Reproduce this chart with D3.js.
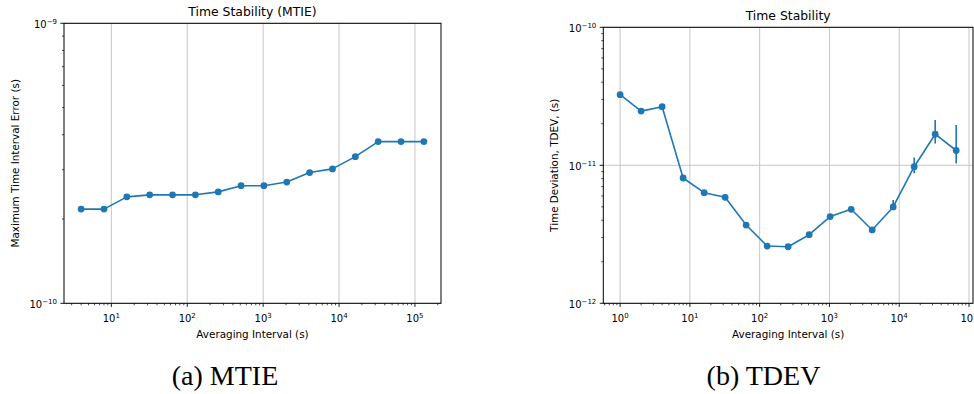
<!DOCTYPE html>
<html><head><meta charset="utf-8">
<script src="https://cdn.jsdelivr.net/npm/d3@7"></script>
<style>
body{margin:0;background:#fff}
svg{display:block}
text{font-family:"DejaVu Sans",sans-serif;fill:#000}
</style>
</head><body>
<svg id="c" width="974" height="394"></svg>
<script>
// ---------- data ----------
const mtieTau = [4, 8, 16, 32, 64, 128, 256, 512, 1024, 2048, 4096, 8192, 16384, 32768, 65536, 131072];
const mtieValues = [2.17e-10, 2.17e-10, 2.40e-10, 2.44e-10, 2.44e-10, 2.44e-10, 2.50e-10, 2.63e-10,
                    2.63e-10, 2.71e-10, 2.93e-10, 3.02e-10, 3.34e-10, 3.78e-10, 3.78e-10, 3.78e-10];

const tdevTau = [1, 2, 4, 8, 16, 32, 64, 128, 256, 512, 1024, 2048, 4096, 8192, 16384, 32768, 65536];
const tdevValues = [3.25e-11, 2.47e-11, 2.66e-11, 8.09e-12, 6.33e-12, 5.86e-12, 3.69e-12, 2.60e-12,
                    2.57e-12, 3.14e-12, 4.25e-12, 4.80e-12, 3.40e-12, 4.99e-12, 9.77e-12, 1.68e-11, 1.28e-11];
const tdevLow  = [3.22e-11, 2.45e-11, 2.63e-11, 7.98e-12, 6.22e-12, 5.74e-12, 3.60e-12, 2.53e-12,
                  2.50e-12, 3.05e-12, 4.12e-12, 4.64e-12, 3.28e-12, 4.75e-12, 8.75e-12, 1.44e-11, 1.03e-11];
const tdevHigh = [3.28e-11, 2.49e-11, 2.69e-11, 8.20e-12, 6.44e-12, 5.98e-12, 3.78e-12, 2.67e-12,
                  2.64e-12, 3.23e-12, 4.38e-12, 4.96e-12, 3.52e-12, 5.60e-12, 1.14e-11, 2.13e-11, 1.96e-11];

const mtieXTickExp = [1, 2, 3, 4, 5];
const mtieYTickExp = [-10, -9];
const tdevXTickExp = [0, 1, 2, 3, 4, 5];
const tdevYTickExp = [-12, -11, -10];

const mtieTitle = "Time Stability (MTIE)";
const tdevTitle = "Time Stability";
const xLabel = "Averaging Interval (s)";
const mtieYLabel = "Maximum Time Interval Error (s)";
const tdevYLabel = "Time Deviation, TDEV, (s)";
const captions = ["(a) MTIE", "(b) TDEV"];

// ---------- drawing ----------
const svg = d3.select("#c");
const COLOR = "#1f77b4";

function logLimits(vals) {
  const lo = Math.log10(d3.min(vals)), hi = Math.log10(d3.max(vals));
  const m = (hi - lo) * 0.05;
  return [Math.pow(10, lo - m), Math.pow(10, hi + m)];
}

function minorValues(domain) {
  const out = [];
  const d0 = Math.floor(Math.log10(domain[0])), d1 = Math.ceil(Math.log10(domain[1]));
  for (let d = d0; d <= d1; d++) for (let k = 2; k <= 9; k++) {
    const v = k * Math.pow(10, d);
    if (v >= domain[0] && v <= domain[1]) out.push(v);
  }
  return out;
}

function panel(o) {
  const g = svg.append("g");
  const x = d3.scaleLog().domain(o.xDomain).range([o.left, o.right]);
  const y = d3.scaleLog().domain(o.yDomain).range([o.bottom, o.top]);

  // grid
  const xMaj = o.xExp.map(e => Math.pow(10, e)).filter(v => v >= o.xDomain[0] && v <= o.xDomain[1] * 1.0001);
  const yMaj = o.yExp.map(e => Math.pow(10, e));
  g.selectAll(".gx").data(xMaj).enter().append("line")
    .attr("x1", d => x(d)).attr("x2", d => x(d)).attr("y1", o.top).attr("y2", o.bottom)
    .attr("stroke", "#c6c6c6").attr("stroke-width", 1);
  g.selectAll(".gy").data(yMaj).enter().append("line")
    .attr("x1", o.left).attr("x2", o.right).attr("y1", d => y(d)).attr("y2", d => y(d))
    .attr("stroke", "#c6c6c6").attr("stroke-width", 1);

  // error bars
  if (o.low) {
    g.selectAll(".eb").data(o.tau).enter().append("line")
      .attr("x1", d => x(d)).attr("x2", d => x(d))
      .attr("y1", (d, i) => y(o.low[i])).attr("y2", (d, i) => y(o.high[i]))
      .attr("stroke", COLOR).attr("stroke-width", 1.6);
  }
  // line
  const line = d3.line().x((d, i) => x(o.tau[i])).y(d => y(d));
  g.append("path").datum(o.vals).attr("d", line).attr("fill", "none")
    .attr("stroke", COLOR).attr("stroke-width", 1.6).attr("stroke-linejoin", "round");
  g.selectAll(".pt").data(o.vals).enter().append("circle")
    .attr("cx", (d, i) => x(o.tau[i])).attr("cy", d => y(d)).attr("r", 3.4).attr("fill", COLOR);

  // spines
  g.append("rect").attr("x", o.left).attr("y", o.top).attr("width", o.right - o.left)
    .attr("height", o.bottom - o.top).attr("fill", "none").attr("stroke", "#000").attr("stroke-width", 1);

  // x ticks
  g.selectAll(".xt").data(xMaj).enter().append("line")
    .attr("x1", d => x(d)).attr("x2", d => x(d)).attr("y1", o.bottom).attr("y2", o.bottom + 3.6)
    .attr("stroke", "#000").attr("stroke-width", 0.9);
  g.selectAll(".xm").data(minorValues(o.xDomain)).enter().append("line")
    .attr("x1", d => x(d)).attr("x2", d => x(d)).attr("y1", o.bottom).attr("y2", o.bottom + 2)
    .attr("stroke", "#000").attr("stroke-width", 0.7);
  const xl = g.selectAll(".xl").data(o.xExp.map(e => ({e, v: Math.pow(10, e)}))).enter().append("text")
    .attr("x", d => x(d.v)).attr("y", o.bottom + 18.7).attr("text-anchor", "middle")
    .attr("font-size", 10);
  xl.append("tspan").text("10");
  xl.append("tspan").attr("dy", -4.5).attr("font-size", 7).text(d => String(d.e).replace("-", "\u2212"));

  // y ticks
  g.selectAll(".yt").data(yMaj).enter().append("line")
    .attr("x1", o.left - 3.6).attr("x2", o.left).attr("y1", d => y(d)).attr("y2", d => y(d))
    .attr("stroke", "#000").attr("stroke-width", 0.9);
  g.selectAll(".ym").data(minorValues(o.yDomain)).enter().append("line")
    .attr("x1", o.left - 2).attr("x2", o.left).attr("y1", d => y(d)).attr("y2", d => y(d))
    .attr("stroke", "#000").attr("stroke-width", 0.7);
  const yl = g.selectAll(".yl").data(o.yExp.map(e => ({e, v: Math.pow(10, e)}))).enter().append("text")
    .attr("x", o.left - 7).attr("y", d => y(d.v) + 5).attr("text-anchor", "end")
    .attr("font-size", 10);
  yl.append("tspan").text("10");
  yl.append("tspan").attr("dy", -4.5).attr("font-size", 7).text(d => String(d.e).replace("-", "\u2212"));

  // title & labels
  g.append("text").attr("x", (o.left + o.right) / 2).attr("y", o.titleY)
    .attr("text-anchor", "middle").attr("font-size", 12.4).text(o.title);
  g.append("text").attr("x", (o.left + o.right) / 2).attr("y", 337.6)
    .attr("text-anchor", "middle").attr("font-size", 10.4).text(xLabel);
  g.append("text").attr("transform", `translate(${o.yLabelX},${(o.top + o.bottom) / 2}) rotate(-90)`)
    .attr("text-anchor", "middle").attr("font-size", 10.4).text(o.yLabel);
}

panel({
  tau: mtieTau, vals: mtieValues, xExp: mtieXTickExp, yExp: mtieYTickExp,
  xDomain: logLimits(mtieTau), yDomain: [1e-10, 1e-9],
  left: 64, right: 441, top: 23.3, bottom: 303.3, titleY: 16,
  title: mtieTitle, yLabel: mtieYLabel, yLabelX: 19.3
});
panel({
  tau: tdevTau, vals: tdevValues, low: tdevLow, high: tdevHigh, xExp: tdevXTickExp, yExp: tdevYTickExp,
  xDomain: logLimits(tdevTau), yDomain: [1e-12, 1e-10],
  left: 603.3, right: 973, top: 27.3, bottom: 303.3, titleY: 20,
  title: tdevTitle, yLabel: tdevYLabel, yLabelX: 557.6
});

// captions
svg.selectAll(".cap").data(captions).enter().append("text")
  .attr("x", (d, i) => [225, 763.5][i]).attr("y", 385)
  .attr("text-anchor", "middle")
  .style("font-family", "'Liberation Serif', 'DejaVu Serif', serif")
  .attr("font-size", 28).text(d => d);
</script>
</body></html>
